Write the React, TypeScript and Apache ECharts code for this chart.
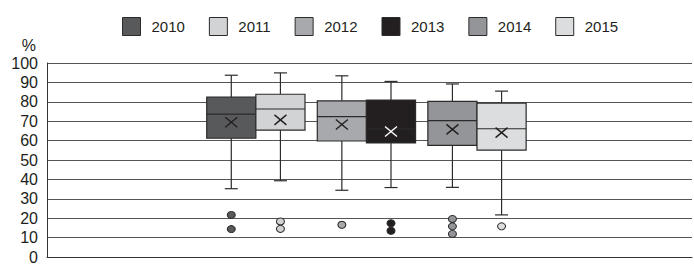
import React, { useEffect, useRef } from 'react';
import * as echarts from 'echarts';

const years = ['2010', '2011', '2012', '2013', '2014', '2015'];
const minValues = [35.2, 39.3, 34.4, 35.8, 35.9, 21.7];
const q1Values = [61.2, 65.4, 59.8, 58.8, 57.5, 55.1];
const medianValues = [73.6, 76.3, 72.4, 66.0, 70.3, 66.1];
const q3Values = [82.4, 83.9, 80.5, 80.9, 80.2, 79.3];
const maxValues = [93.7, 94.9, 93.4, 90.5, 89.2, 85.5];
const meanValues = [69.5, 70.7, 68.3, 64.7, 65.8, 64.1];
const outlierValues = [
  [21.7, 14.4],
  [18.3, 14.5],
  [16.6],
  [17.4, 13.5],
  [19.6, 15.8, 11.9],
  [15.8],
];

// layout (not data): slot position of each box on the hidden x scale
const SLOTS = [30, 38, 48, 56, 66, 74];
const X_MAX = 105;
const BOX_UNITS = 8;

const fillColors = ['#58595b', '#d1d3d4', '#a7a9ac', '#231f20', '#939598', '#dcddde'];
const meanColors = ['#231f20', '#231f20', '#231f20', '#ffffff', '#231f20', '#231f20'];
const strokeColor = '#2b2b2b';
const textColor = '#231f20';
const FONT = '"Liberation Sans", Arial, Helvetica, sans-serif';

export default function App() {
  const ref = useRef<HTMLDivElement>(null);

  useEffect(() => {
    if (!ref.current) return;
    const chart = echarts.init(ref.current, undefined, { renderer: 'svg' });

    const boxSeries = years.map((y, i) => ({
      name: y,
      type: 'custom',
      xAxisIndex: 0,
      yAxisIndex: 0,
      encode: { x: 0, y: [1, 2, 3, 4, 5, 6] },
      itemStyle: { color: fillColors[i], borderColor: strokeColor },
      z: 3,
      data: [[SLOTS[i], minValues[i], q1Values[i], medianValues[i], q3Values[i], maxValues[i], meanValues[i]]],
      renderItem: (params: any, api: any) => {
        const x = api.value(0);
        const pMin = api.coord([x, api.value(1)]);
        const pQ1 = api.coord([x, api.value(2)]);
        const pMed = api.coord([x, api.value(3)]);
        const pQ3 = api.coord([x, api.value(4)]);
        const pMax = api.coord([x, api.value(5)]);
        const pMean = api.coord([x, api.value(6)]);
        const w = api.size([BOX_UNITS, 0])[0];
        const hw = w / 2;
        const cap = 6.5;
        const cx = pMed[0];
        const ls = { stroke: strokeColor, lineWidth: 1.2 };
        const ms = { stroke: meanColors[i], lineWidth: 1.4 };
        return {
          type: 'group',
          children: [
            { type: 'line', shape: { x1: cx, y1: pMax[1], x2: cx, y2: pQ3[1] }, style: ls },
            { type: 'line', shape: { x1: cx, y1: pQ1[1], x2: cx, y2: pMin[1] }, style: ls },
            { type: 'line', shape: { x1: cx - cap, y1: pMax[1], x2: cx + cap, y2: pMax[1] }, style: ls },
            { type: 'line', shape: { x1: cx - cap, y1: pMin[1], x2: cx + cap, y2: pMin[1] }, style: ls },
            {
              type: 'rect',
              shape: { x: cx - hw, y: pQ3[1], width: w, height: pQ1[1] - pQ3[1] },
              style: { fill: fillColors[i], stroke: strokeColor, lineWidth: 1.2 },
            },
            { type: 'line', shape: { x1: cx - hw, y1: pMed[1], x2: cx + hw, y2: pMed[1] }, style: ls },
            { type: 'line', shape: { x1: cx - 6, y1: pMean[1] - 5, x2: cx + 6, y2: pMean[1] + 5 }, style: ms },
            { type: 'line', shape: { x1: cx - 6, y1: pMean[1] + 5, x2: cx + 6, y2: pMean[1] - 5 }, style: ms },
          ],
        };
      },
    }));

    const outlierSeries = years.map((y, i) => ({
      name: y,
      type: 'scatter',
      symbol: 'circle',
      symbolSize: [8, 7],
      z: 4,
      itemStyle: { color: fillColors[i], borderColor: strokeColor, borderWidth: 1, opacity: 1 },
      data: outlierValues[i].map((v) => [SLOTS[i], v]),
    }));

    chart.setOption({
      animation: false,
      backgroundColor: '#ffffff',
      textStyle: { fontFamily: FONT },
      legend: {
        top: 12,
        left: 117,
        icon: 'rect',
        itemWidth: 18,
        itemHeight: 18,
        itemGap: 24,
        selectedMode: false,
        textStyle: { fontSize: 15, color: textColor, fontFamily: FONT, padding: [0, 0, 0, 6] },
        data: years.map((y, i) => ({
          name: y,
          itemStyle: { color: fillColors[i], borderColor: strokeColor, borderWidth: 1 },
        })),
      },
      grid: { left: 47, right: 2, top: 63, bottom: 6, containLabel: false },
      xAxis: {
        type: 'value',
        min: 0,
        max: X_MAX,
        axisLine: { show: true, onZero: false, lineStyle: { color: '#333333', width: 1 } },
        axisTick: { show: false },
        axisLabel: { show: false },
        splitLine: { show: false },
      },
      yAxis: {
        type: 'value',
        min: 0,
        max: 100,
        interval: 10,
        name: '%',
        nameLocation: 'end',
        nameGap: 10,
        nameTextStyle: { fontSize: 16, color: textColor, align: 'right', padding: [0, 11, 0, 0], fontFamily: FONT },
        axisLine: { show: true, lineStyle: { color: '#333333', width: 1 } },
        axisTick: { show: false },
        axisLabel: { fontSize: 16, color: textColor, margin: 9, fontFamily: FONT },
        splitLine: { show: true, lineStyle: { color: '#555555', width: 1 } },
      },
      series: [...boxSeries, ...outlierSeries],
    });

    return () => chart.dispose();
  }, []);

  return (
    <div
      ref={ref}
      style={{ position: 'fixed', left: 0, top: 0, width: 694, height: 265, background: '#fff' }}
    />
  );
}
